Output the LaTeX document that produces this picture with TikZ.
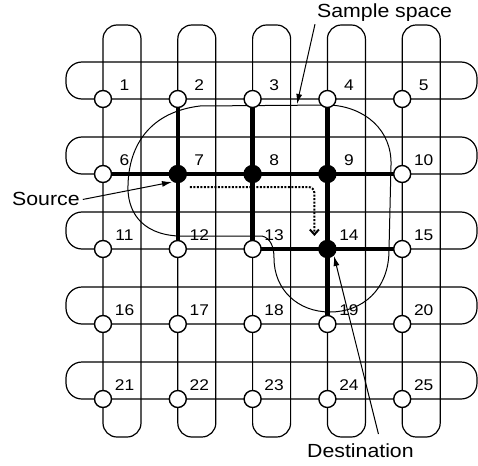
\documentclass[tikz,border=0pt]{standalone}
\usepackage{fontspec}
\setmainfont{Liberation Sans}[FakeStretch=1.12]
\usetikzlibrary{arrows.meta,calc}
\pgfdeclarelayer{bg}
\pgfsetlayers{bg,main}
\tikzset{
  pe/.style={circle,draw,fill=white,line width=1.4pt,minimum size=17pt,inner sep=0pt},
  pb/.style={pe,fill=black},
  lab/.style={font=\fontsize{15.5}{18}\selectfont,inner sep=0pt},
  captext/.style={font=\fontsize{19}{22}\selectfont,inner sep=0pt},
  wire/.style={line width=1.2pt},
  route/.style={line width=4.5pt},
  boundary/.style={line width=1pt},
  pointer/.style={line width=1pt,-{Latex[length=10pt,width=6pt]}},
  probe/.style={line width=2pt,dash pattern=on 2pt off 1.5pt,rounded corners=6pt,-{Straight Barb[length=5pt,width=9pt]}},
}
\begin{document}
\begin{tikzpicture}[x=1pt,y=-1pt]
\useasboundingbox (0,0) rectangle (478,465);
% nodes
\foreach \r in {0,...,4} \foreach \c in {0,...,4} {
  \pgfmathtruncatemacro\k{5*\r+\c+1}
  \pgfmathtruncatemacro\isblack{(\k==7)||(\k==8)||(\k==9)||(\k==14)}
  \ifnum\isblack=1 \def\nst{pb}\else\def\nst{pe}\fi
  \node[\nst] (n\k) at ({103+74.8*\c},{99+75*\r}) {};
  \node[lab] (l\k) at ($(n\k)+(21.5,-14)$) {\k};
}
\begin{pgfonlayer}{bg}
  % wrap-around loops
  \foreach \r in {0,...,4}
    \draw[wire,rounded corners=16pt] (66,{62+75*\r}) rectangle (477,{99+75*\r});
  \foreach \c in {0,...,4}
    \draw[wire,rounded corners=14pt] ({103+74.8*\c},25) rectangle ({141+74.8*\c},437);
  % route
  \draw[route] (n6.center) -- (n10.center);
  \draw[route] (n2.center) -- (n12.center);
  \draw[route] (n3.center) -- (n13.center);
  \draw[route] (n4.center) -- (n19.center);
  \draw[route] (n13.center) -- (n15.center);
  % sample space
  \draw[boundary] (178,236) .. controls (140,234) and (127,210) .. (128,185)
     .. controls (129,145) and (150,112) .. (200,106) -- (330,105)
     .. controls (365,107) and (392,130) .. (391,165) -- (389,250)
     .. controls (389,290) and (362,312) .. (330,312)
     .. controls (298,312) and (274,290) .. (274,258)
     .. controls (274,246) and (270,238) .. (262,236) -- cycle;
\end{pgfonlayer}
% dotted search path
\draw[probe] ($(n7)+(12,13)$) -| ($(n14)+(-13,-13)$);
% captions
\node[captext,anchor=base west] (src) at (12,205) {Source};
\node[captext,anchor=base west] (ss) at (317,18) {Sample space};
\node[captext,anchor=base west] (dst) at (307,457) {Destination};
\coordinate (srcTip) at (172,182);
\coordinate (ssTip) at (297,104);
\coordinate (dstTip) at (334,256);
\draw[pointer] ($(src.east)+(3,1)$) -- (srcTip);
\draw[pointer] ($(ss.south west)+(-2,2)$) -- (ssTip);
\draw[pointer] ($(dst.north)+(18,-9)$) -- (dstTip);
\end{tikzpicture}
\end{document}
